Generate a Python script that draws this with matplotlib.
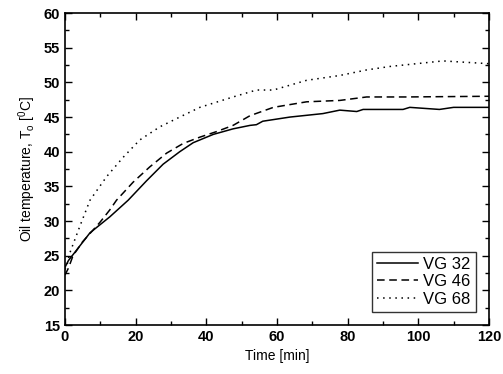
import matplotlib
matplotlib.use("Agg")
import matplotlib.pyplot as plt
from matplotlib.ticker import MultipleLocator

plt.rcParams['font.family'] = ['Liberation Sans', 'DejaVu Sans']
plt.rcParams['font.weight'] = 'bold'

# VG 32
t_32 = [0, 1, 3.3, 7.1, 12.7, 17.9, 23.1, 27.8, 32.5, 36.3, 42, 47.6, 52.4, 54.2, 56,
        63.7, 73, 77.8, 82.6, 84.4, 95.7, 97.6, 106, 110, 120]
T_32 = [23.3, 24.3, 25.8, 28.3, 30.6, 33.0, 35.8, 38.2, 40.0, 41.3, 42.5, 43.3, 43.8, 43.9, 44.4,
        45.0, 45.5, 46.0, 45.8, 46.1, 46.1, 46.4, 46.1, 46.4, 46.4]

# VG 46
t_46 = [0, 1, 2.3, 5, 9.9, 12.7, 14.6, 19.3, 24, 28.8, 33.5, 38.2, 42.9, 47.6, 52.4, 59,
        68.4, 77.8, 85.4, 96.7, 120]
T_46 = [22.2, 23.2, 25.0, 27.0, 29.8, 31.6, 33.0, 35.6, 37.8, 39.8, 41.2, 42.1, 42.9, 43.8, 45.2, 46.4,
        47.2, 47.4, 47.9, 47.9, 48.0]

# VG 68
t_68 = [0, 0.5, 1.4, 4.2, 7.1, 11.8, 16.5, 21.2, 26.9, 32.5, 38.2, 47.6, 54.2, 59,
        68.4, 77.8, 85.4, 92, 99.5, 107, 120]
T_68 = [23.0, 23.4, 25.4, 29.2, 33.0, 36.4, 39.2, 41.7, 43.6, 45.0, 46.4, 47.9, 48.9, 48.9,
        50.3, 51.0, 51.8, 52.3, 52.7, 53.1, 52.7]

fig = plt.figure(figsize=(5.03, 3.74), dpi=100)
ax = fig.add_axes([0.129, 0.131, 0.843, 0.834])

ax.plot(t_32, T_32, color="black", linestyle="-", linewidth=1.1, label="VG 32")
ax.plot(t_46, T_46, color="black", linestyle=(0, (5, 3)), linewidth=1.1, label="VG 46")
ax.plot(t_68, T_68, color="black", linestyle=(0, (1, 3)), linewidth=1.1, label="VG 68")

ax.set_xlim(0, 120)
ax.set_ylim(15, 60)
ax.xaxis.set_major_locator(MultipleLocator(20))
ax.xaxis.set_minor_locator(MultipleLocator(10))
ax.yaxis.set_major_locator(MultipleLocator(5))
ax.yaxis.set_minor_locator(MultipleLocator(2.5))
ax.tick_params(which="both", direction="in", top=True, right=True, width=1)
ax.tick_params(which="major", length=5, labelsize=10.5)
ax.tick_params(which="minor", length=3)
for s in ax.spines.values():
    s.set_linewidth(1.2)

ax.set_xlabel("Time [min]", fontsize=10, fontweight="normal")
ax.set_ylabel("Oil temperature, T$_\\mathregular{o}$ [$^\\mathregular{0}$C]",
              fontsize=10, fontweight="normal")

leg = ax.legend(loc="lower right", fontsize=12, frameon=True, fancybox=False,
                edgecolor="black", handlelength=2.5, borderaxespad=0.8,
                labelspacing=0.15, handletextpad=0.3, borderpad=0.3,
                prop={"size": 12, "weight": "normal"})
leg.get_frame().set_linewidth(1.0)

fig.savefig("out.png", dpi=100)
